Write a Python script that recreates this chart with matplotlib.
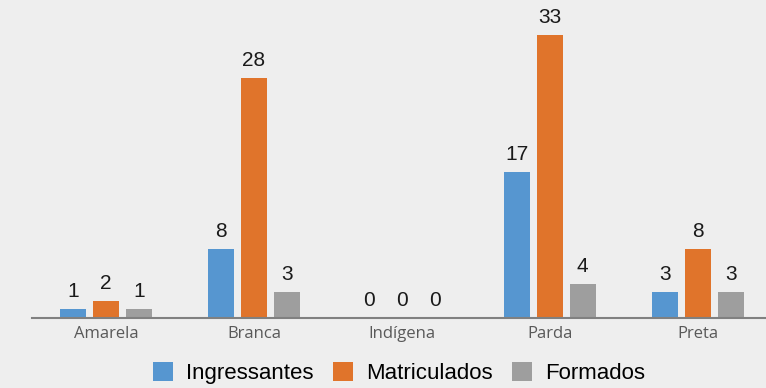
import numpy as np
import matplotlib.pyplot as plt
from matplotlib.patches import Patch

categorias = ['Amarela', 'Branca', 'Indígena', 'Parda', 'Preta']
ingressantes = [1, 8, 0, 17, 3]
matriculados = [2, 28, 0, 33, 8]
formados = [1, 3, 0, 4, 3]

series = ['Ingressantes', 'Matriculados', 'Formados']
cores = ['#5696d0', '#e0742b', '#9e9e9e']
bg = '#eeeeee'

fig = plt.figure(figsize=(7.66, 3.88), dpi=100, facecolor=bg)
ax = fig.add_axes([32 / 766, 1 - 318 / 388, 1 - 32 / 766, 318 / 388])
ax.set_facecolor(bg)

x = np.arange(len(categorias))
w = 0.175
off = 0.222
for k, (vals, cor) in enumerate(zip([ingressantes, matriculados, formados], cores)):
    pos = x + (k - 1) * off
    ax.bar(pos, vals, width=w, color=cor, zorder=2)
    for p, v in zip(pos, vals):
        ax.text(p, v + 0.95, str(v), ha='center', va='bottom', fontsize=15,
                family='Liberation Sans', color='#1a1a1a')

ax.set_xlim(-0.5, 4.46)
ax.set_ylim(0, 37.06)
for s in ['top', 'right', 'left']:
    ax.spines[s].set_visible(False)
ax.spines['bottom'].set_color('#808080')
ax.spines['bottom'].set_linewidth(1.5)
ax.set_yticks([])
ax.set_xticks(x)
ax.set_xticklabels(categorias, fontsize=12, color='#595959', family='Open Sans')
ax.tick_params(axis='x', length=0, pad=6)

handles = [Patch(facecolor=c, label=s) for s, c in zip(series, cores)]
fig.legend(handles=handles, loc='center', bbox_to_anchor=(399 / 766, 1 - 373 / 388),
           ncol=3, frameon=False, prop={'family': 'Liberation Sans', 'size': 16},
           handlelength=0.9, handleheight=0.9, handletextpad=0.6, columnspacing=0.85,
           borderpad=0, borderaxespad=0)

fig.savefig('out.png', dpi=100, facecolor=bg)
